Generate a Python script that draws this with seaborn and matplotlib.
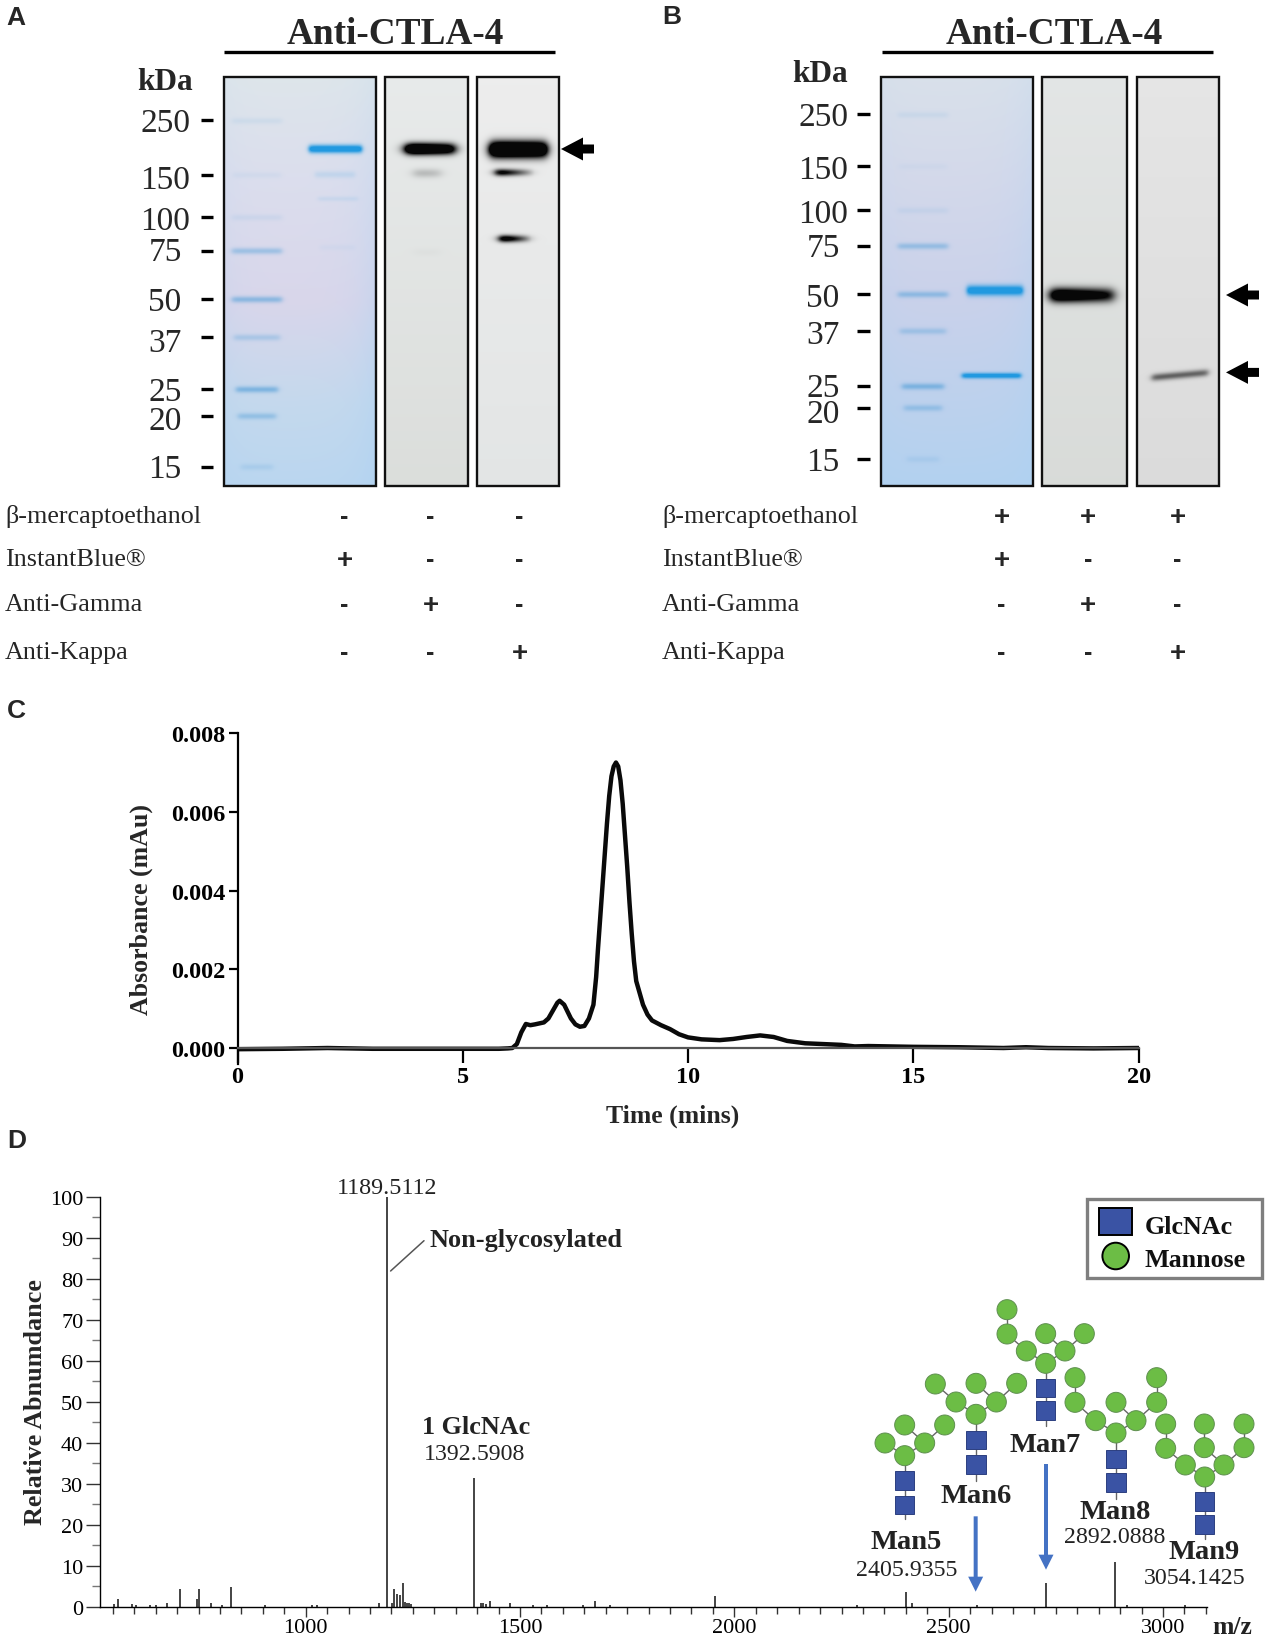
#!/usr/bin/env python3
import numpy as np
import matplotlib
matplotlib.use("Agg")
import matplotlib.pyplot as plt
import seaborn as sns
from matplotlib.patches import Polygon, Rectangle, Circle

W, H = 1265, 1640

# gels: ladder and bands as apparent size (kDa)
ladder_kda = [250, 150, 100, 75, 50, 37, 25, 20, 15]
ladder_level_a = [0.10, 0.07, 0.10, 0.42, 0.55, 0.30, 0.62, 0.42, 0.18]
ladder_level_b = [0.10, 0.05, 0.10, 0.45, 0.50, 0.35, 0.62, 0.40, 0.15]

stain_a_kda = [191, 150, 119, 77]
stain_a_level = [1.0, 0.10, 0.07, 0.03]
gamma_a_kda = [191, 152, 74]
gamma_a_level = [1.0, 0.10, 0.01]
kappa_a_kda = [190, 153, 83]
kappa_a_level = [1.0, 0.62, 0.72]

stain_b_kda = [51.5, 26.9]
stain_b_level = [1.0, 0.9]
gamma_b_kda = [49.5]
gamma_b_level = [0.8]
kappa_b_kda = [27]
kappa_b_level = [0.27]

row_names = ["β-mercaptoethanol", "InstantBlue®", "Anti-Gamma", "Anti-Kappa"]
signs_a = [["-", "-", "-"], ["+", "-", "-"], ["-", "+", "-"], ["-", "-", "+"]]
signs_b = [["+", "+", "+"], ["+", "-", "-"], ["-", "+", "-"], ["-", "-", "+"]]

# chromatogram
time_min = [0, 1, 2, 3, 4, 5, 5.8, 6.0, 6.1, 6.2, 6.3, 6.4, 6.5, 6.6, 6.8, 6.9, 7.0, 7.1, 7.15, 7.25,
            7.4, 7.5, 7.6, 7.7, 7.8, 7.9, 7.96, 8.0, 8.05, 8.1, 8.15, 8.2, 8.25, 8.3, 8.35, 8.4, 8.45, 8.5,
            8.55, 8.6, 8.65, 8.7, 8.75, 8.8, 8.85, 9.0, 9.1, 9.2, 9.4, 9.6, 9.8, 10, 10.3, 10.7, 11, 11.3,
            11.6, 11.9, 12.2, 12.6, 13, 13.4, 13.7, 14, 15, 16, 17, 17.5, 18, 19, 20]
absorbance = [-0.00003, -0.00002, 0.0, -0.00002, -0.00002, -0.00002, -0.00002, -0.00001, 0.0, 0.0001,
              0.0004, 0.00061, 0.00058, 0.0006, 0.00065, 0.00075, 0.00095, 0.00115, 0.0012, 0.0011,
              0.00075, 0.0006, 0.00054, 0.00056, 0.00075, 0.0011, 0.0018, 0.0025, 0.0033, 0.0041, 0.0049,
              0.0057, 0.0064, 0.0069, 0.00715, 0.00725, 0.00715, 0.0068, 0.0062, 0.0054, 0.0046, 0.0037,
              0.0029, 0.0022, 0.0017, 0.0011, 0.00085, 0.0007, 0.00058, 0.00048, 0.00035, 0.00027,
              0.00022, 0.0002, 0.00023, 0.00028, 0.00032, 0.00028, 0.00018, 0.00012, 0.0001, 0.00008,
              0.00004, 0.00005, 0.00003, 0.00002, 0.0, 0.00002, 0.0, -0.00001, 0.0]

# mass spectrum
mz = [552, 562, 594, 603, 637, 651, 677, 707, 746, 750, 778, 804, 825, 906, 1014, 1026, 1172, 1189.5,
      1201, 1205, 1212, 1220, 1227, 1232, 1236, 1241, 1245, 1392.6, 1408, 1413, 1421, 1430, 1476,
      1531, 1562, 1648, 1675, 1711, 1954, 2287, 2401.6, 2415, 2566, 2728, 2889, 2915, 3052]
rel_abundance = [0.6, 2.0, 0.6, 0.4, 0.5, 0.5, 1.0, 4.2, 1.8, 4.3, 0.8, 0.4, 4.8, 0.4, 0.3, 0.3, 1.0, 100,
                 1.0, 4.2, 3.0, 2.8, 5.9, 1.2, 1.0, 0.9, 0.7, 31.5, 0.9, 0.9, 0.7, 1.3, 0.8,
                 0.4, 0.4, 0.5, 1.4, 0.4, 2.5, 0.4, 3.5, 0.8, 0.3, 5.9, 10.8, 0.3, 0.5]

sns.set_theme(style="ticks")
plt.rcParams["font.family"] = ["Liberation Serif", "DejaVu Serif"]
plt.rcParams["axes.edgecolor"] = "black"
plt.rcParams["xtick.color"] = "black"
plt.rcParams["ytick.color"] = "black"

fig = plt.figure(figsize=(W / 100, H / 100), dpi=100, facecolor="white")


def px_axes(left, top, right, bottom):
    return fig.add_axes([left / W, 1 - bottom / H, (right - left) / W, (bottom - top) / H])


page = px_axes(0, 0, W, H)
page.set_xlim(0, W)
page.set_ylim(H, 0)
page.axis("off")


def draw_gel(box, stops, bands, edge_tint=0.0, lw=1.7):
    # bands: (y, level, x0, x1, thickness, colour, tilt, soft, taper, gain)
    x0, x1, y0, y1 = box
    rows = np.arange(y0, y1) + 0.5
    cols = np.arange(x0, x1) + 0.5
    st_f = [s[0] for s in stops]
    img = np.dstack([np.interp((rows - y0) / (y1 - y0), st_f, [s[1][c] for s in stops])[:, None]
                     * np.ones(len(cols)) for c in range(3)])
    xx, yy = np.meshgrid(cols, rows)
    if edge_tint:
        t = (xx - x0) / (x1 - x0)
        tint = (edge_tint * (t ** 7 + 0.5 * (1 - t) ** 10) * (0.3 + 0.7 * (yy - y0) / (y1 - y0)))[..., None]
        img = img * (1 - tint) + np.array((0.68, 0.82, 0.95)) * tint
    for y, level, bx0, bx1, thick, colour, tilt, soft, taper, gain in bands:
        u = (xx - bx0) / (bx1 - bx0)
        centre = y + tilt * (u - 0.5)
        across = np.exp(-((yy - centre) / thick) ** 2)
        along = 0.5 * (np.tanh((xx - bx0) / soft) - np.tanh((xx - bx1) / soft))
        fade = 1 - taper * np.clip(u, 0, 1)
        a = np.clip(level * across * along * fade * gain, 0, 1)[..., None]
        img = img * (1 - a) + np.array(colour) * a
    page.imshow(np.clip(img, 0, 1), extent=(x0, x1, y1, y0), aspect="auto", interpolation="bilinear", zorder=1)
    page.add_patch(Rectangle((x0, y0), x1 - x0, y1 - y0, fill=False, ec="#111111", lw=lw, zorder=2))


def mig(kda, ticks):
    # position on the gel from the ladder (log scale)
    return np.interp(-np.log10(kda), -np.log10(ladder_kda), ticks)


def draw_arrow(x, y):
    pts = [(x, y), (x + 22, y - 11.5), (x + 22, y - 4.5), (x + 33, y - 4.5), (x + 33, y + 4.5),
           (x + 22, y + 4.5), (x + 22, y + 11.5)]
    page.add_patch(Polygon(pts, closed=True, fc="black", ec="none", zorder=3))


stops_a = [(0, (0.87, 0.90, 0.92)), (0.25, (0.86, 0.87, 0.93)), (0.55, (0.85, 0.84, 0.92)),
           (0.8, (0.77, 0.85, 0.93)), (1, (0.73, 0.84, 0.94))]
stops_b = [(0, (0.85, 0.88, 0.92)), (0.25, (0.83, 0.85, 0.92)), (0.55, (0.79, 0.82, 0.92)),
           (0.8, (0.74, 0.82, 0.93)), (1, (0.70, 0.82, 0.94))]
marker_blue = (0.40, 0.66, 0.86)
band_blue = (0.13, 0.60, 0.88)


def draw_panel(letter, letter_x, letter_y, title_x, line_x, kda_pos, tick_x, label_x, tick_ys, label_ys,
               gels, lane_x, ladder_level, stain, gamma, kappa, arrows, arrow_x, label_left, sign_x, signs,
               geom_stain, geom_gamma, geom_kappa, stops_stain, grey_gamma, grey_kappa):
    page.text(letter_x, letter_y, letter, family="Liberation Sans", weight="bold", fontsize=19,
              ha="left", va="center", zorder=5)
    page.text(title_x, 34, "Anti-CTLA-4", weight="bold", fontsize=26.8, ha="center", va="center")
    page.plot(line_x, [52.5, 52.5], color="black", lw=2.4, solid_capstyle="butt")
    page.text(kda_pos[0], kda_pos[1], "kDa", weight="bold", fontsize=22.5, ha="center", va="center")
    for kda, ty, ly in zip(ladder_kda, tick_ys, label_ys):
        page.plot(tick_x, [ty, ty], color="black", lw=2.4, solid_capstyle="butt")
        page.text(label_x, ly + 2, str(kda), fontsize=24, ha="center", va="center")

    widths = [50, 48, 50, 50, 50, 46, 42, 38, 32]
    ladder_bands = []
    for ty, lev, w in zip(tick_ys, ladder_level, widths):
        ladder_bands.append((ty + 0.5, lev, lane_x - w / 2, lane_x + w / 2, 3.2, marker_blue, 0, 3, 0, 1.2))
    stain_bands = [(mig(k, tick_ys), lev, *g, band_blue, 0, 2.5, 0, 1.3) for k, lev, g in zip(*stain, geom_stain)]
    draw_gel(gels[0], stops_stain, ladder_bands + stain_bands, edge_tint=0.55)

    dark = (0.03, 0.03, 0.03)
    draw_gel(gels[1], grey_gamma, [(mig(k, tick_ys), lev, *g[:3], dark, 0, 6, g[3], 2.2)
                                   for k, lev, g in zip(*gamma, geom_gamma)])
    draw_gel(gels[2], grey_kappa, [(mig(k, tick_ys), lev, *g[:3], dark, g[4], g[5], g[3], 2.2)
                                   for k, lev, g in zip(*kappa, geom_kappa)])

    for ay in arrows:
        draw_arrow(arrow_x, ay)

    for name, row, ry in zip(row_names, signs, [516, 559.4, 604, 652]):
        page.text(label_left, ry + 1, name, fontsize=18.8, ha="left", va="center")
        for sx, s in zip(sign_x, row):
            page.text(sx, ry + (2 if s == "+" else 1), s, family="Liberation Sans", weight="bold",
                      fontsize=20 if s == "+" else 18, ha="center", va="center")


tick_a = [121.4, 175.6, 218, 251.5, 300, 338, 390, 416.7, 467.5]
lab_a = [122, 178.5, 220, 251, 301, 342, 391, 419.5, 468]
tick_b = [115.4, 167, 211, 246.7, 295, 331.7, 387, 408.5, 459.7]
lab_b = [116, 169, 213, 247, 296.6, 334, 386.5, 413, 460.5]

draw_panel("A", 6, 18, 395, [224, 555], (165, 83), [201, 213], 165, tick_a, lab_a,
           [(224, 376, 78, 487), (385, 468, 78, 487), (477, 559, 78, 487)], 257, ladder_level_a,
           (stain_a_kda, stain_a_level), (gamma_a_kda, gamma_a_level), (kappa_a_kda, kappa_a_level),
           [150], 561, 5, [344.5, 430.6, 519.6], signs_a,
           [(309, 362, 4), (315, 355, 3.5), (318, 358, 2.5), (320, 355, 3)],
           [(406, 455, 5.5, 0.3), (414, 441, 4.5, 0.2), (414, 440, 4, 0)],
           [(490, 547, 8, 0.1, 0, 5), (496, 535, 3.5, 0.9, 0, 5), (500, 532, 3.5, 0.85, 0, 5)],
           stops_a, [(0, (0.91, 0.92, 0.92)), (1, (0.86, 0.87, 0.86))], [(0, (0.93, 0.93, 0.93)), (1, (0.89, 0.90, 0.90))])

draw_panel("B", 662, 17, 1054.5, [882, 1213], (820, 75), [857, 870], 823, tick_b, lab_b,
           [(881, 1033, 78, 487), (1042, 1127, 78, 487), (1137, 1219, 78, 487)], 923, ladder_level_b,
           (stain_b_kda, stain_b_level), (gamma_b_kda, gamma_b_level), (kappa_b_kda, kappa_b_level),
           [296, 373.4], 1226, 662, [1001.6, 1088, 1177.5], signs_b,
           [(967, 1023, 5), (962, 1021, 2.8)],
           [(1051, 1114, 7, 0.4)],
           [(1152, 1208, 3.6, 0.05, -5, 3.5)],
           stops_b, [(0, (0.89, 0.90, 0.90)), (1, (0.85, 0.86, 0.85))], [(0, (0.90, 0.90, 0.90)), (1, (0.86, 0.86, 0.86))])

# C
ax_c = px_axes(237.5, 734, 1138.6, 1065)
sns.lineplot(x=time_min, y=absorbance, ax=ax_c, color="#0a0a0a", linewidth=3.2, sort=False, errorbar=None)
ax_c.set_xlim(0, 20)
ax_c.set_ylim(-0.000406, 0.008)
ax_c.patch.set_alpha(0)
sns.despine(ax=ax_c)
ax_c.spines["bottom"].set_position(("data", 0))
ax_c.spines["bottom"].set_color("#555555")
ax_c.spines["bottom"].set_linewidth(1.6)
ax_c.spines["left"].set_linewidth(1.6)
ax_c.set_xticks([0, 5, 10, 15, 20])
ax_c.set_yticks([0, 0.002, 0.004, 0.006, 0.008])
ax_c.set_yticklabels(["0.000", "0.002", "0.004", "0.006", "0.008"], weight="bold", fontsize=17.5)
ax_c.set_xticklabels(["0", "5", "10", "15", "20"], weight="bold", fontsize=17.5)
ax_c.tick_params(axis="x", length=11, width=1.6, pad=2)
ax_c.tick_params(axis="y", length=6.5, width=1.6, pad=2)
page.text(7, 711, "C", family="Liberation Sans", weight="bold", fontsize=19, ha="left", va="center", zorder=5)
page.text(673, 1116, "Time (mins)", weight="bold", fontsize=18.5, ha="center", va="center")
page.text(141, 910, "Absorbance (mAu)", weight="bold", fontsize=18.6, rotation=90, ha="center", va="center")

# D
ax_d = px_axes(100, 1198, 1206.7, 1607.7)
ax_d.vlines(mz, 0, rel_abundance, color="#111111", lw=1.1)
ax_d.set_xlim(520, 3102)
ax_d.set_ylim(0, 100)
ax_d.patch.set_alpha(0)
sns.despine(ax=ax_d)
ax_d.set_yticks(np.arange(0, 101, 10))
ax_d.set_yticks(np.arange(5, 100, 10), minor=True)
ax_d.set_xticks([1000, 1500, 2000, 2500, 3000])
ax_d.set_xticks(np.arange(550, 3101, 50), minor=True)
ax_d.tick_params(axis="y", which="major", labelsize=16, width=1.0, color="#333333", length=10, pad=2)
ax_d.tick_params(axis="x", which="major", labelsize=16, width=1.0, color="#333333", length=7, pad=1)
ax_d.tick_params(axis="x", which="minor", length=5, width=1.0, color="#333333")
ax_d.tick_params(axis="y", which="minor", length=6, width=1.0, color="#777777")
for spine in ax_d.spines.values():
    spine.set_linewidth(1.0)
ax_d.plot([-0.013, 1], [0, 0], transform=ax_d.get_xaxis_transform(), color="#222222", lw=1.2, clip_on=False)

overlay = px_axes(0, 0, W, H)
overlay.set_xlim(0, W)
overlay.set_ylim(H, 0)
overlay.axis("off")
overlay.patch.set_alpha(0)

overlay.text(7, 1141, "D", family="Liberation Sans", weight="bold", fontsize=19, ha="left", va="center")
overlay.text(36, 1402, "Relative Abnumdance", weight="bold", fontsize=18.8, rotation=90, ha="center", va="center")
overlay.text(387.5, 1188.5, "1189.5112", fontsize=17.4, ha="center", va="center", color="#222222")
overlay.text(526, 1241, "Non-glycosylated", weight="bold", fontsize=18.9, ha="center", va="center", color="#222222")
overlay.plot([390.6, 424], [1272, 1241.7], color="#555555", lw=1.1)
overlay.text(476, 1427.5, "1 GlcNAc", weight="bold", fontsize=18.8, ha="center", va="center", color="#222222")
overlay.text(474.6, 1454.5, "1392.5908", fontsize=17.2, ha="center", va="center", color="#222222")
overlay.text(1232, 1639, "m/z", weight="bold", fontsize=18.5, ha="center", va="bottom", color="#222222")

SQ_BLUE = "#3a53a4"
GREEN = "#6cbd45"


def z5(x, y):
    return 840 + x / 3, 1180 + y / 3


def draw_glycan(circles, links, squares, stem_end):
    sx = squares[0][0]
    for a, b in links:
        pa, pb = z5(*circles[a]), z5(*circles[b])
        overlay.plot([pa[0], pb[0]], [pa[1], pb[1]], color="#666666", lw=1, zorder=3)
    p0 = z5(sx, circles[-1][1])
    p1 = z5(sx, stem_end)
    overlay.plot([p0[0], p1[0]], [p0[1], p1[1]], color="#666666", lw=1, zorder=3)
    for cx, cy in circles:
        px, py = z5(cx, cy)
        overlay.add_patch(Circle((px, py), 10, fc=GREEN, ec="#5f8f50", lw=0.7, zorder=4))
    for qx, qy in squares:
        px, py = z5(qx, qy)
        overlay.add_patch(Rectangle((px - 9.7, py - 9.3), 19.4, 18.6, fc=SQ_BLUE, ec="#2c3f80", lw=0.7, zorder=4))


draw_glycan([(135, 792), (194, 738), (314, 738), (254, 792), (194, 830)],
            [(0, 4), (1, 3), (2, 3), (3, 4)], [(194, 905), (194, 978)], 1020)
draw_glycan([(286, 615), (408, 613), (530, 613), (348, 669), (469, 669), (408, 706)],
            [(0, 3), (3, 5), (1, 4), (2, 4), (4, 5)], [(408, 783), (408, 857)], 905)
draw_glycan([(501, 392), (501, 465), (617, 464), (733, 464), (559, 516), (675, 516), (617, 553)],
            [(0, 1), (1, 4), (4, 6), (2, 5), (3, 5), (5, 6)], [(617, 627), (617, 695)], 740)
draw_glycan([(705, 596), (705, 670), (828, 670), (950, 596), (950, 670), (767, 725), (888, 725), (828, 762)],
            [(0, 1), (1, 5), (5, 7), (2, 6), (3, 4), (4, 6), (6, 7)], [(828, 840), (828, 911)], 960)
draw_glycan([(977, 735), (977, 808), (1093, 735), (1093, 806), (1212, 735), (1212, 806), (1036, 858), (1152, 858),
             (1094, 894)],
            [(0, 1), (1, 6), (6, 8), (2, 3), (3, 7), (4, 5), (5, 7), (7, 8)], [(1094, 968), (1094, 1037)], 1080)

for name, (zx, zy) in {"Man5": (198, 1088), "Man6": (408, 949), "Man7": (614, 796), "Man8": (826, 999),
                       "Man9": (1092, 1119)}.items():
    px, py = z5(zx, zy)
    overlay.text(px, py, name, weight="bold", fontsize=20.5, ha="center", va="center", color="#222222", zorder=5)
for val, (zx, zy) in {"2405.9355": (200, 1171), "2892.0888": (823, 1073), "3054.1425": (1063, 1196)}.items():
    px, py = z5(zx, zy)
    overlay.text(px, py, val, fontsize=17.2, ha="center", va="center", color="#222222", zorder=5)

for zx, y0, y1 in [(410, 1012, 1238), (621, 855, 1172)]:
    px, py0 = z5(zx, y0)
    _, py1 = z5(zx, y1)
    px -= 1
    overlay.add_patch(Polygon([(px - 2, py0), (px + 2, py0), (px + 2, py1 - 15), (px + 7.5, py1 - 15), (px, py1),
                               (px - 7.5, py1 - 15), (px - 2, py1 - 15)], closed=True, fc="#4472c4", ec="none"))

# legend box
overlay.add_patch(Rectangle((1087, 1200), 175, 79, fc="white", ec="#7f7f7f", lw=2.4, zorder=3))
overlay.add_patch(Rectangle((1099, 1209), 33, 27, fc=SQ_BLUE, ec="black", lw=1.4, zorder=4))
overlay.add_patch(Circle((1115.7, 1257), 13.3, fc=GREEN, ec="black", lw=1.4, zorder=4))
overlay.text(1144.5, 1228, "GlcNAc", weight="bold", fontsize=18.7, ha="left", va="center", zorder=5, color="#111111")
overlay.text(1144.5, 1260.5, "Mannose", weight="bold", fontsize=18.7, ha="left", va="center", zorder=5, color="#111111")

fig.savefig("out.png", dpi=100, facecolor="white")
